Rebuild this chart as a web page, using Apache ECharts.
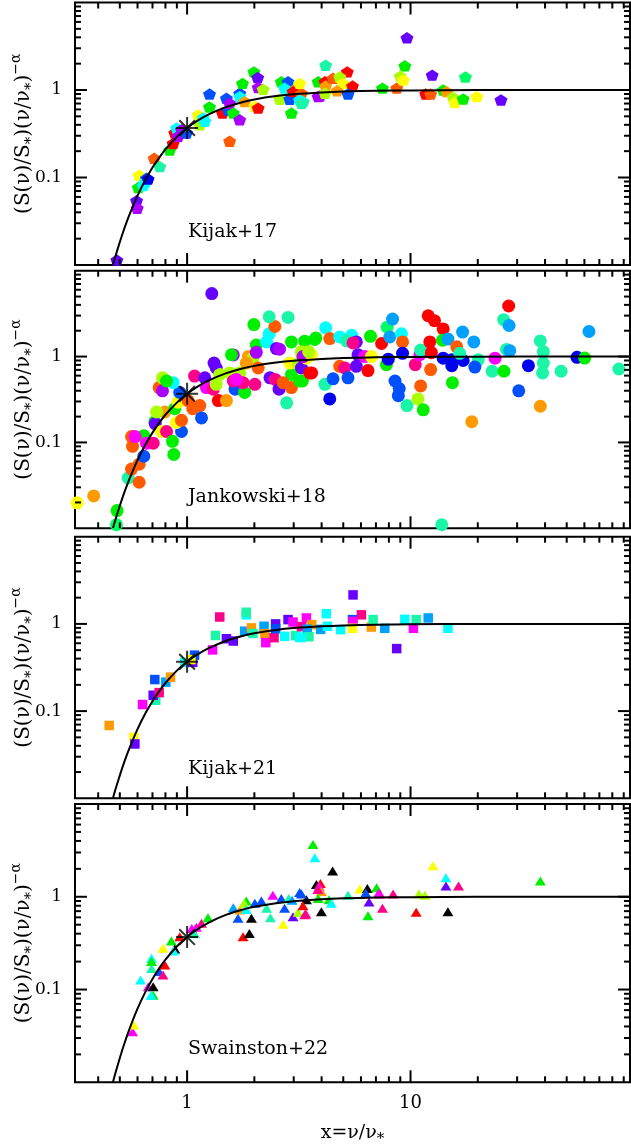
<!DOCTYPE html>
<html>
<head>
<meta charset="utf-8">
<script src="https://cdn.jsdelivr.net/npm/echarts@6/dist/echarts.min.js"></script>
<style>
html,body{margin:0;padding:0;background:#fff;}
#chart{width:631px;height:1146px;}
</style>
</head>
<body>
<div id="chart"></div>
<script>
// ---------- axis ranges and ticks ----------
const X_MIN = 0.315, X_MAX = 96, Y_MIN = 0.01, Y_MAX = 10;
const xMajorTicks = [1, 10];
const xMinorTicks = [0.4, 0.5, 0.6, 0.7, 0.8, 0.9, 2, 3, 4, 5, 6, 7, 8, 9, 20, 30, 40, 50, 60, 70, 80, 90];
const yMajorTicks = [0.1, 1];
const yMinorTicks = [0.02, 0.03, 0.04, 0.05, 0.06, 0.07, 0.08, 0.09, 0.2, 0.3, 0.4, 0.5, 0.6, 0.7, 0.8, 0.9, 2, 3, 4, 5, 6, 7, 8, 9];
const xTickLabels = [[1, '1'], [10, '10']];
const yTickLabels = [[0.1, '0.1'], [1, '1']];

// ---------- model curve ----------
const curveX = [0.466, 0.48, 0.5, 0.52, 0.55, 0.6, 0.65, 0.7, 0.75, 0.8, 0.9, 1.0, 1.1, 1.25, 1.5, 1.75, 2, 2.5, 3, 4, 5, 7, 10, 20, 50, 96];
const curveY = [0.0101, 0.0131, 0.0183, 0.0248, 0.0366, 0.0622, 0.0938, 0.130, 0.169, 0.210, 0.291, 0.368, 0.438, 0.527, 0.641, 0.721, 0.779, 0.852, 0.895, 0.939, 0.961, 0.980, 0.990, 0.9975, 0.9996, 0.9999];
const pivotX = [1], pivotY = [0.368];

// ---------- panel labels ----------
const panelNames = ['Kijak+17', 'Jankowski+18', 'Kijak+21', 'Swainston+22'];

// ---------- data: Kijak+17 (pentagons) ----------
const k17X = [0.485,0.594,0.598,0.610,0.605,0.658,0.651,0.636,0.669,0.712,0.755,0.836,0.866,0.881,0.897,0.911,0.944,0.994,1.14,1.12,1.18,1.20,1.26,1.26,1.44,1.53,1.50,1.55,1.55,1.61,1.72,1.72,1.81,1.72,1.77,2.01,2.08,1.99,2.07,2.08,2.19,2.60,2.64,2.83,2.73,2.88,2.93,3.09,2.98,3.25,3.31,3.19,3.86,3.86,3.19,4.17,4.14,4.17,3.93,4.14,4.50,5.21,4.82,4.99,4.69,5.50,5.25,7.49,8.67,9.64,9.43,9.0,9.28,12.5,11.7,12.3,14.0,14.5,15.5,15.8,17.2,17.6,19.8,25.4,3.25];
const k17Y = [0.0114,0.0543,0.0446,0.106,0.077,0.098,0.089,0.081,0.096,0.166,0.133,0.206,0.245,0.323,0.368,0.296,0.352,0.323,0.40,0.52,0.48,0.44,0.90,0.64,0.545,0.59,0.805,0.26,0.707,0.545,0.917,0.84,0.737,0.457,1.19,0.65,0.62,1.61,1.39,1.07,1.02,0.785,1.24,1.24,1.05,0.785,0.545,1.05,0.957,0.917,0.737,0.77,1.24,0.84,1.19,1.92,1.24,1.11,0.855,0.917,1.36,1.61,1.41,1.19,0.98,1.11,0.90,1.05,1.05,3.95,1.89,1.44,1.30,1.48,0.90,0.90,1.0,0.957,0.826,0.718,0.79,1.41,0.84,0.77,0.707];
const k17C = ['V','V','P','Y','G','B','C','C','N','O','T','G','R','R','C','P','P','B','L','Y','C','C','B','G','R','B','B','O','P','G','B','C','A','P','G','Y','R','G','V','P','L','L','G','B','C','B','G','A','R','O','T','C','G','P','Y','T','R','A','P','L','O','R','L','Y','A','R','B','G','O','V','G','L','Y','V','R','O','G','A','L','Y','G','S','Y','V','T'];

// ---------- data: Jankowski+18 (circles) ----------
const j18X = [0.322,0.382,0.483,0.486,0.545,0.564,0.610,0.610,0.570,0.564,0.640,0.640,0.585,0.658,0.705,0.717,0.72,0.768,0.809,0.944,0.86,0.872,0.897,0.944,0.795,0.73,0.881,0.911,0.927,0.866,0.75,0.776,0.776,0.809,1.01,1.14,1.06,1.16,1.38,1.50,1.08,1.20,1.22,1.31,1.35,1.61,1.58,1.40,1.35,1.55,1.72,1.64,1.81,1.61,1.78,1.66,2.01,1.88,1.97,2.08,2.04,1.99,2.27,2.33,2.47,2.33,2.83,2.51,2.59,2.93,3.36,3.73,2.35,2.48,2.58,2.79,2.93,2.93,2.88,3.25,3.15,3.61,3.28,3.25,2.69,3.19,3.25,3.42,3.77,4.17,3.54,4.14,4.35,4.50,4.35,4.82,5.45,5.17,5.72,5.53,5.82,6.24,6.68,4.82,5.08,5.25,5.72,6.45,6.62,7.42,7.86,8.31,8.08,9.11,9.21,7.8,7.95,8.52,8.9,8.82,9.21,9.64,10.8,11.4,11.1,10.5,11.0,11.1,12.0,12.8,14.0,12.2,12.4,12.3,13.9,14.7,14.0,15.3,15.3,17.2,15.4,16.1,17.1,19.2,16.6,20.1,19.4,18.8,23.2,26.2,23.9,26.1,27.5,27.6,26.9,27.8,30.5,33.7,38.1,39.3,39.3,39.0,38.1,47.2,55.6,60.2,62.9,85.6,13.8,1.29,3.3,3.6,3.5,1.32,1.84,2.04];
const j18Y = [0.0198,0.0238,0.011,0.0161,0.0385,0.0489,0.0344,0.0557,0.090,0.117,0.069,0.120,0.117,0.098,0.098,0.174,0.166,0.134,0.134,0.134,0.103,0.0724,0.171,0.181,0.226,0.226,0.247,0.294,0.382,0.496,0.435,0.399,0.566,0.519,0.307,0.269,0.247,0.193,0.307,0.307,0.592,0.566,0.435,0.417,0.736,1.045,1.05,0.618,0.475,0.645,0.645,0.417,0.382,0.519,0.496,0.542,0.475,1.0,0.957,0.736,1.36,2.36,1.48,1.84,2.24,2.91,2.86,1.24,1.22,1.48,1.51,1.58,0.566,0.542,0.417,0.289,0.435,0.618,0.84,1.05,0.82,0.645,0.519,0.736,0.496,0.519,1.14,0.957,1.65,2.16,0.645,0.475,0.321,0.551,1.62,1.69,1.77,1.52,1.48,1.44,1.05,1.0,1.0,0.769,0.736,0.566,0.769,0.687,1.72,1.42,2.20,2.73,1.69,1.84,1.48,0.804,0.932,0.519,0.424,0.35,1.09,0.269,0.321,0.240,0.455,0.804,1.05,1.19,2.99,2.62,2.10,1.48,1.11,0.705,1.55,1.6,0.957,0.917,0.783,0.90,0.496,1.30,1.93,1.48,1.09,0.92,0.755,0.174,0.675,0.675,0.957,2.69,3.88,2.30,1.21,1.17,0.399,0.783,1.52,1.14,0.84,0.645,0.264,0.675,0.98,0.96,1.96,0.717,0.011,5.41,1.0,1.05,1.14,0.84,0.84,1.12];
const j18C = ['Y','A','S','G','T','O','O','O','O','O','B','G','M','M','I','G','V','Y','I','B','G','G','Y','O','A','L','G','Y','B','C','O','P','L','G','O','O','O','B','R','A','I','V','M','I','V','P','G','L','L','L','L','B','G','I','I','M','I','A','L','O','G','G','C','C','O','T','T','V','P','G','G','G','V','I','V','T','O','G','Y','Y','L','R','G','V','O','G','L','Y','G','C','R','T','N','B','O','C','C','T','V','I','V','M','Y','O','I','B','V','R','G','R','S','K','K','C','O','G','N','B','B','B','N','T','L','G','O','I','M','T','R','R','R','R','R','O','G','K','N','N','N','N','G','O','K','K','T','T','B','A','T','G','M','T','R','K','T','K','B','N','T','T','T','T','A','T','N','G','K','T','T','V','P','Y','L','V','A','P'];

// ---------- data: Kijak+21 (squares) ----------
const k21X = [0.448,0.578,0.584,0.632,0.724,0.705,0.75,0.717,0.803,0.843,0.976,1.06,1.08,1.04,1.30,1.40,1.34,1.50,1.61,1.81,1.84,1.84,1.94,1.97,2.21,2.23,2.25,2.45,2.49,2.49,2.73,2.83,2.98,3.06,3.19,3.25,3.42,3.61,3.45,3.51,3.25,3.96,4.2,4.25,4.86,5.53,5.5,5.53,5.5,6.03,6.68,6.8,7.67,8.67,9.43,10.3,10.6,12.0,14.7];
const k21Y = [0.0684,0.050,0.042,0.119,0.133,0.152,0.163,0.230,0.215,0.245,0.362,0.362,0.438,0.39,0.503,1.20,0.737,0.676,0.636,0.825,1.27,1.36,0.90,0.777,0.94,0.773,0.61,0.695,1.0,0.88,0.72,1.12,1.05,0.735,0.70,0.93,1.17,0.98,0.87,0.713,0.70,0.865,1.31,0.94,0.86,2.15,1.12,1.07,0.89,1.27,0.92,1.12,0.89,0.521,1.13,0.89,1.12,1.17,0.89];
const k21C = ['A','Y','V','M','T','V','I','B','K','A','C','V','B','Y','M','I','T','V','V','K','C','T','A','T','K','A','M','I','V','B','C','V','M','T','C','I','M','A','K','T','C','K','C','C','C','V','B','M','Y','I','A','T','K','V','C','M','T','K','C'];

// ---------- data: Swainston+22 (triangles) ----------
const s22X = [0.57,0.578,0.619,0.693,0.693,0.693,0.67,0.705,0.705,0.69,0.75,0.78,0.795,0.78,0.851,0.881,0.87,0.927,1.05,1.10,1.16,1.24,1.08,1.61,1.72,1.84,1.80,1.69,1.84,1.78,1.90,1.94,2.01,2.27,2.36,2.15,2.42,2.64,2.73,2.69,2.98,3.14,3.36,2.85,2.95,3.19,3.42,3.66,3.73,3.79,4.48,3.95,3.90,3.99,3.85,3.86,4.32,4.42,3.99,3.4,3.3,3.25,5.25,5.93,6.41,6.3,6.52,7.05,7.3,7.2,6.45,7.49,8.36,10.9,11.6,10.6,12.6,14.4,14.4,16.4,14.7,38.1];
const s22Y = [0.0351,0.0414,0.127,0.217,0.169,0.20,0.107,0.107,0.087,0.087,0.156,0.143,0.184,0.278,0.333,0.273,0.26,0.371,0.456,0.47,0.517,0.594,0.40,0.761,0.72,0.899,0.85,0.585,0.73,0.371,0.403,0.585,0.849,0.75,0.594,0.90,1.04,0.96,0.75,0.504,0.609,0.68,0.64,0.96,0.92,1.11,0.93,3.67,2.63,1.36,1.89,1.39,1.30,1.14,1.2,0.96,0.93,0.85,0.69,0.65,0.8,1.07,1.04,1.21,1.23,1.1,0.88,1.25,1.07,1.1,0.624,0.75,1.07,1.07,1.04,0.68,2.16,1.60,1.31,1.31,0.69,1.48];
const s22C = ['M','Y','C','C','T','G','M','X','G','C','B','I','R','Y','G','X','C','R','M','M','I','G','T','K','A','G','L','B','C','R','X','X','B','T','T','B','M','B','B','Y','V','L','I','T','K','B','X','G','C','X','X','R','M','A','I','G','G','C','X','I','R','B','T','Y','X','B','V','G','I','M','G','I','I','L','L','R','Y','C','V','I','X','G'];

// ---------- styles ----------
const PALETTE = {
  R:'#ff0000', O:'#ff5a00', A:'#ff9a00', Y:'#ffff00', L:'#aaff00', G:'#00ee00',
  S:'#00ff66', T:'#1af5a8', C:'#00ffff', K:'#00a0ff', B:'#0050ff', N:'#0000ee',
  V:'#6600ff', P:'#aa00ff', M:'#ff00ff', I:'#ff0088', X:'#000000'
};
const FONT = 'DejaVu Serif';
const PENTAGON = 'path://M50,0 L97.6,34.5 L79.4,90.5 L20.6,90.5 L2.4,34.5 Z';
const ASTERISK = 'path://M10,0L10,20M0,10L20,10M2.9,2.9L17.1,17.1M2.9,17.1L17.1,2.9';

const grids = [
  {left:75, width:555, top:2.5, height:262.5},
  {left:75, width:555, top:270.7, height:257.6},
  {left:75, width:555, top:536.7, height:261.6},
  {left:75, width:555, top:804, height:278.3}
];
const labelTops = [223, 488, 760, 1040];

const panels = [
  {x:k17X, y:k17Y, c:k17C, symbol:PENTAGON, size:[13,12]},
  {x:j18X, y:j18Y, c:j18C, symbol:'circle', size:13},
  {x:k21X, y:k21Y, c:k21C, symbol:'rect', size:9.5},
  {x:s22X, y:s22Y, c:s22C, symbol:'triangle', size:[11,9]}
];

function matchLabel(list, v){
  for (const [val, txt] of list) { if (Math.abs(v - val) / val < 1e-6) return txt; }
  return '';
}

const tickData = [];
xMajorTicks.forEach(v => tickData.push([v, 1, 0, 1]));
xMinorTicks.forEach(v => tickData.push([v, 1, 0, 0]));
yMajorTicks.forEach(v => tickData.push([1, v, 1, 1]));
yMinorTicks.forEach(v => tickData.push([1, v, 1, 0]));

function renderTick(params, api){
  const cs = params.coordSys;
  const kind = api.value(2), major = api.value(3);
  const L = major ? 12 : 6;
  const st = {stroke:'#000', lineWidth:2};
  const p = api.coord([api.value(0), api.value(1)]);
  if (kind === 0) {
    const x = p[0], yb = cs.y + cs.height, yt = cs.y;
    return {type:'group', children:[
      {type:'line', shape:{x1:x, y1:yb, x2:x, y2:yb - L}, style:st},
      {type:'line', shape:{x1:x, y1:yt, x2:x, y2:yt + L}, style:st}
    ]};
  } else {
    const y = p[1], xl = cs.x, xr = cs.x + cs.width;
    return {type:'group', children:[
      {type:'line', shape:{x1:xl, y1:y, x2:xl + L, y2:y}, style:st},
      {type:'line', shape:{x1:xr, y1:y, x2:xr - L, y2:y}, style:st}
    ]};
  }
}

const yName = '(S(ν)/S{sub|*})(ν/ν{sub|*}){sup|−α}';
const nameRich = {
  sub:{fontFamily:FONT, fontSize:15, lineHeight:12, verticalAlign:'bottom', color:'#000'},
  sup:{fontFamily:FONT, fontSize:14, lineHeight:12, verticalAlign:'top', color:'#000'}
};

const option = {
  animation:false,
  backgroundColor:'#fff',
  title: panelNames.map((t, i) => ({
    text:t, left:188, top:labelTops[i], padding:0,
    textStyle:{fontFamily:FONT, fontSize:19, fontWeight:'normal', color:'#000'}
  })),
  grid: grids.map(g => Object.assign({show:true, borderColor:'#000', borderWidth:2, backgroundColor:'transparent', containLabel:false, outerBoundsMode:'none'}, g)),
  xAxis: grids.map((g, i) => ({
    type:'log', gridIndex:i, min:X_MIN, max:X_MAX, logBase:10,
    axisLine:{show:false}, axisTick:{show:false}, splitLine:{show:false}, minorTick:{show:false},
    axisLabel:{show:i === 3, margin:12, fontFamily:FONT, fontSize:18, color:'#000',
      formatter:v => matchLabel(xTickLabels, v), showMinLabel:false, showMaxLabel:false},
    name: i === 3 ? 'x=ν/ν{sub|*}' : '', nameLocation:'middle', nameGap:38, nameMoveOverlap:false,
    nameTextStyle:{fontFamily:FONT, fontSize:19, color:'#000', lineHeight:26, rich:nameRich}
  })),
  yAxis: grids.map((g, i) => ({
    type:'log', gridIndex:i, min:Y_MIN, max:Y_MAX, logBase:10,
    axisLine:{show:false}, axisTick:{show:false}, splitLine:{show:false},
    axisLabel:{margin:13, fontFamily:FONT, fontSize:17, color:'#000',
      formatter:v => matchLabel(yTickLabels, v)},
    name:yName, nameLocation:'middle', nameRotate:90, nameGap:36, nameMoveOverlap:false,
    nameTextStyle:{fontFamily:FONT, fontSize:20, color:'#000', lineHeight:30, rich:nameRich}
  })),
  series: []
};

panels.forEach((p, i) => {
  option.series.push({
    type:'scatter', xAxisIndex:i, yAxisIndex:i, symbol:p.symbol, symbolSize:p.size,
    symbolKeepAspect:true, z:2, silent:true,
    data:p.x.map((x, k) => ({value:[x, p.y[k]], itemStyle:{color:PALETTE[p.c[k]], opacity:1}}))
  });
  option.series.push({
    type:'line', xAxisIndex:i, yAxisIndex:i, showSymbol:false, smooth:0.3, z:4, silent:true,
    lineStyle:{color:'#000', width:2}, clip:true,
    data:curveX.map((x, k) => [x, curveY[k]])
  });
  option.series.push({
    type:'scatter', xAxisIndex:i, yAxisIndex:i, symbol:ASTERISK, symbolSize:22, z:5, silent:true,
    itemStyle:{color:'rgba(0,0,0,0)', borderColor:'#000', borderWidth:2},
    data:pivotX.map((x, k) => [x, pivotY[k]])
  });
  option.series.push({
    type:'custom', xAxisIndex:i, yAxisIndex:i, z:6, silent:true, clip:false,
    renderItem:renderTick, data:tickData
  });
});

const chart = echarts.init(document.getElementById('chart'), null, {renderer:'canvas'});
chart.setOption(option);
</script>
</body>
</html>
